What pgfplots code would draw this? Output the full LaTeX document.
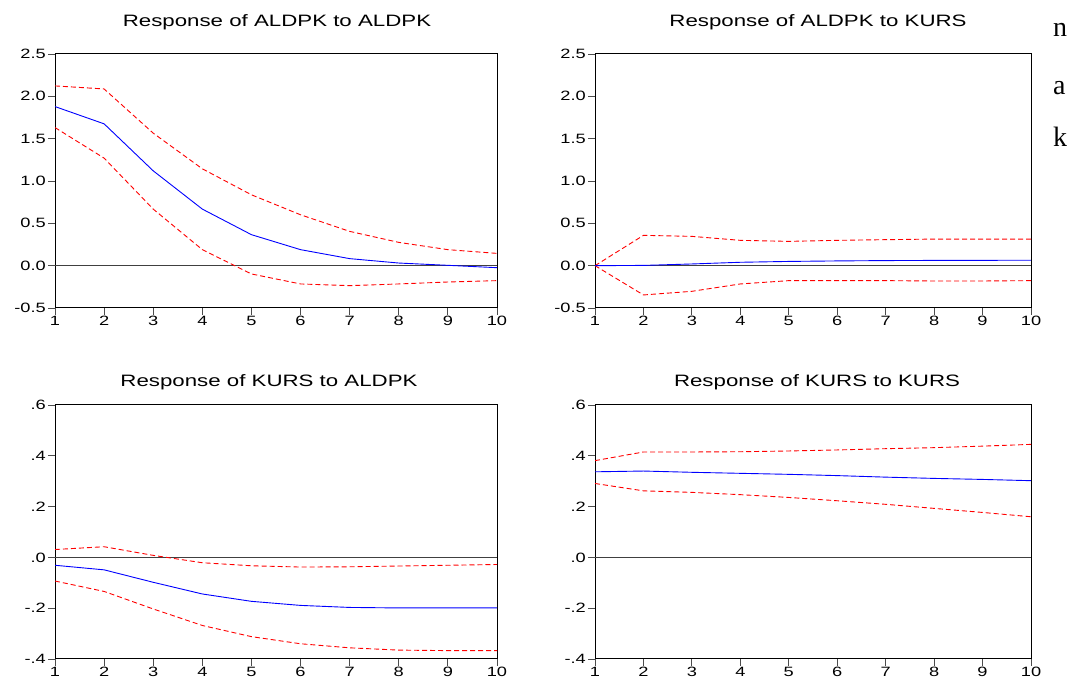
\documentclass[border=0pt]{standalone}
\usepackage{pgfplots}
\pgfplotsset{compat=1.18}
\usepackage{fontspec}
\setmainfont[FakeStretch=1.35]{Liberation Sans}
\newfontfamily\serifstray{Liberation Serif}
\pgfplotsset{
  irf/.style={
    scale only axis, width=442pt, height=254pt,
    xmin=1, xmax=10, xtick={1,2,3,4,5,6,7,8,9,10},
    xticklabels={1,2,3,4,5,6,7,8,9,10},
    xtick pos=bottom, ytick pos=left, tick align=outside,
    major tick length=7pt,
    axis line style={black, line width=1pt},
    tick style={gray!60!black, line width=0.9pt},
    tick label style={font=\fontsize{13.5}{15}\selectfont, black},
    xticklabel style={inner sep=1pt},
    yticklabel style={inner sep=2pt},
    clip=true,
  },
  irfA/.style={irf, ymin=-0.5, ymax=2.5, ytick={-0.5,0,0.5,1,1.5,2,2.5},
    yticklabels={-0.5,0.0,0.5,1.0,1.5,2.0,2.5}},
  irfB/.style={irf, ymin=-0.4, ymax=0.6, ytick={-0.4,-0.2,0,0.2,0.4,0.6},
    yticklabels={-.4,-.2,.0,.2,.4,.6}},
  mid/.style={blue, line width=0.9pt},
  band/.style={red, line width=0.9pt, dash pattern=on 5pt off 3pt},
  zero/.style={gray!50!black, line width=0.9pt},
}
\begin{document}
\begin{tikzpicture}[x=1pt,y=1pt]
\useasboundingbox (0,0) rectangle (1070,682);
% Titles
\node[anchor=base, font=\fontsize{16.5}{18}\selectfont] at (277,655) {Response of ALDPK to ALDPK};
\node[anchor=base, font=\fontsize{16.5}{18}\selectfont] at (818,655) {Response of ALDPK to KURS};
\node[anchor=base, font=\fontsize{16.5}{18}\selectfont] at (269,295) {Response of KURS to ALDPK};
\node[anchor=base, font=\fontsize{16.5}{18}\selectfont] at (817,295) {Response of KURS to KURS};
% stray letters
\node[anchor=base west, inner sep=0pt, font=\serifstray\fontsize{28}{30}\selectfont] at (1053,645) {n};
\node[anchor=base west, inner sep=0pt, font=\serifstray\fontsize{28}{30}\selectfont] at (1053,587) {a};
\node[anchor=base west, inner sep=0pt, font=\serifstray\fontsize{28}{30}\selectfont] at (1053,535) {k};

% Panel 1
\begin{axis}[irfA, at={(55pt,374pt)}, anchor=south west]
\addplot[zero] coordinates {(1,0) (10,0)};
\addplot[band] coordinates {(1,2.123) (2,2.087) (3,1.565) (4,1.144) (5,0.837) (6,0.601) (7,0.405) (8,0.275) (9,0.189) (10,0.145)};
\addplot[band] coordinates {(1,1.631) (2,1.270) (3,0.668) (4,0.189) (5,-0.098) (6,-0.216) (7,-0.236) (8,-0.216) (9,-0.193) (10,-0.177)};
\addplot[mid] coordinates {(1,1.879) (2,1.675) (3,1.120) (4,0.668) (5,0.366) (6,0.189) (7,0.083) (8,0.031) (9,0.004) (10,-0.024)};
\end{axis}

% Panel 2
\begin{axis}[irfA, width=436pt, at={(595pt,374pt)}, anchor=south west]
\addplot[zero] coordinates {(1,0) (10,0)};
\addplot[band] coordinates {(1,0) (2,0.358) (3,0.346) (4,0.299) (5,0.287) (6,0.299) (7,0.307) (8,0.314) (9,0.314) (10,0.314)};
\addplot[band] coordinates {(1,0) (2,-0.346) (3,-0.303) (4,-0.216) (5,-0.177) (6,-0.177) (7,-0.177) (8,-0.181) (9,-0.181) (10,-0.177)};
\addplot[mid] coordinates {(1,0) (2,0.003) (3,0.020) (4,0.040) (5,0.050) (6,0.056) (7,0.060) (8,0.062) (9,0.063) (10,0.064)};
\end{axis}

% Panel 3
\begin{axis}[irfB, at={(55pt,23pt)}, anchor=south west]
\addplot[zero] coordinates {(1,0) (10,0)};
\addplot[band] coordinates {(1,0.031) (2,0.042) (3,0.008) (4,-0.021) (5,-0.033) (6,-0.038) (7,-0.037) (8,-0.034) (9,-0.031) (10,-0.028)};
\addplot[band] coordinates {(1,-0.093) (2,-0.134) (3,-0.203) (4,-0.268) (5,-0.312) (6,-0.340) (7,-0.356) (8,-0.365) (9,-0.367) (10,-0.367)};
\addplot[mid] coordinates {(1,-0.031) (2,-0.049) (3,-0.098) (4,-0.144) (5,-0.173) (6,-0.189) (7,-0.197) (8,-0.199) (9,-0.199) (10,-0.199)};
\end{axis}

% Panel 4
\begin{axis}[irfB, width=436pt, at={(595pt,23pt)}, anchor=south west]
\addplot[zero] coordinates {(1,0) (10,0)};
\addplot[band] coordinates {(1,0.381) (2,0.415) (3,0.415) (4,0.416) (5,0.419) (6,0.423) (7,0.428) (8,0.432) (9,0.438) (10,0.445)};
\addplot[band] coordinates {(1,0.291) (2,0.262) (3,0.256) (4,0.247) (5,0.236) (6,0.223) (7,0.209) (8,0.193) (9,0.177) (10,0.160)};
\addplot[mid] coordinates {(1,0.337) (2,0.340) (3,0.335) (4,0.331) (5,0.327) (6,0.322) (7,0.316) (8,0.311) (9,0.307) (10,0.302)};
\end{axis}
\end{tikzpicture}
\end{document}
